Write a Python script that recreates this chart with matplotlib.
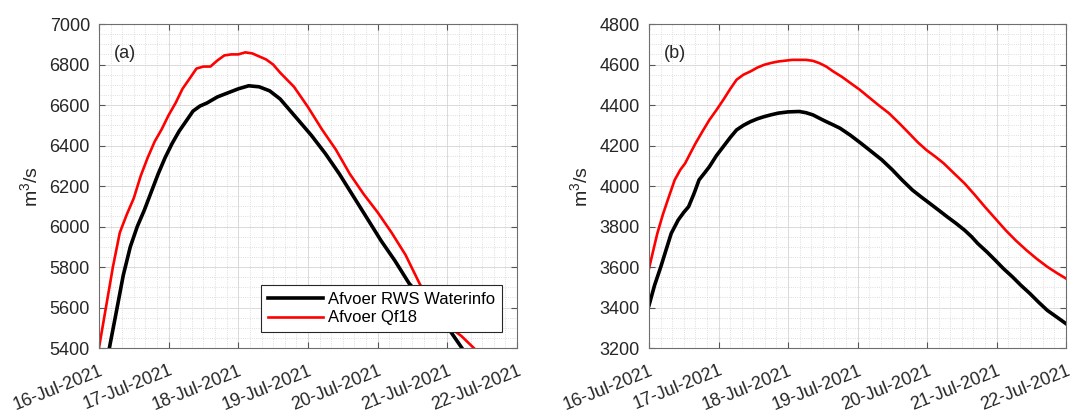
import numpy as np
import matplotlib
matplotlib.use('Agg')
import matplotlib.pyplot as plt
import matplotlib.dates as mdates

plt.rcParams['font.family'] = ['Liberation Sans', 'DejaVu Sans']
plt.rcParams['mathtext.fontset'] = 'custom'
plt.rcParams['mathtext.rm'] = 'Liberation Sans'
plt.rcParams['mathtext.it'] = 'Liberation Sans'

start = np.datetime64('2021-07-16T00:00')

# panel (a): time in days after 16-Jul-2021 00:00, discharge in m3/s
a_rws_t = [0.15, 0.25, 0.35, 0.45, 0.55, 0.65, 0.75, 0.85, 0.95, 1.05, 1.15, 1.25,
           1.35, 1.45, 1.55, 1.7, 1.85, 2.0, 2.15, 2.3, 2.45, 2.6, 2.75, 2.9, 3.05,
           3.25, 3.45, 3.65, 3.85, 4.05, 4.25, 4.45, 4.65, 4.85, 5.05, 5.21]
a_rws_q = [5400, 5580, 5760, 5900, 6000, 6080, 6170, 6260, 6340, 6410, 6470, 6520,
           6570, 6595, 6610, 6640, 6660, 6680, 6695, 6690, 6670, 6630, 6570, 6510, 6450,
           6360, 6260, 6150, 6040, 5930, 5830, 5720, 5640, 5560, 5480, 5400]
a_qf_t = [0, 0.1, 0.2, 0.3, 0.4, 0.5, 0.6, 0.7, 0.8, 0.9, 1.0, 1.1, 1.2, 1.3, 1.4,
          1.5, 1.6, 1.7, 1.8, 1.9, 2.0, 2.1, 2.2, 2.3, 2.4, 2.5, 2.6, 2.8, 3.0, 3.2,
          3.4, 3.6, 3.8, 4.0, 4.2, 4.4, 4.6, 4.8, 5.0, 5.2, 5.38]
a_qf_q = [5400, 5600, 5800, 5970, 6060, 6140, 6250, 6340, 6420, 6480, 6550, 6610,
          6680, 6730, 6780, 6790, 6790, 6820, 6845, 6850, 6850, 6860, 6855, 6840, 6825,
          6800, 6760, 6690, 6590, 6480, 6380, 6260, 6160, 6070, 5970, 5860, 5720, 5600,
          5510, 5460, 5400]

# panel (b)
b_rws_t = [0, 0.08, 0.17, 0.25, 0.32, 0.42, 0.5, 0.57, 0.65, 0.72, 0.8, 0.87, 0.97,
           1.07, 1.17, 1.26, 1.36, 1.46, 1.56, 1.66, 1.76, 1.86, 2.0, 2.16, 2.26, 2.36,
           2.45, 2.55, 2.65, 2.75, 2.9, 3.05, 3.2, 3.35, 3.5, 3.64, 3.79, 3.92, 4.04,
           4.17, 4.29, 4.42, 4.54, 4.64, 4.73, 4.86, 4.98, 5.1, 5.23, 5.35, 5.48, 5.6,
           5.73, 5.87, 6.0]
b_rws_q = [3411, 3510, 3601, 3690, 3766, 3832, 3870, 3898, 3965, 4030, 4065, 4096, 4150,
           4195, 4240, 4277, 4300, 4318, 4332, 4343, 4352, 4360, 4366, 4368, 4362, 4351,
           4335, 4318, 4302, 4285, 4250, 4211, 4170, 4129, 4080, 4030, 3980, 3945, 3914,
           3880, 3848, 3815, 3782, 3750, 3716, 3675, 3634, 3592, 3551, 3510, 3469, 3428,
           3386, 3352, 3320]
b_qf_t = [0, 0.06, 0.12, 0.2, 0.27, 0.37, 0.45, 0.52, 0.6, 0.67, 0.77, 0.87, 0.97,
          1.07, 1.17, 1.26, 1.36, 1.46, 1.56, 1.66, 1.76, 1.86, 2.06, 2.26, 2.36, 2.45,
          2.55, 2.65, 2.78, 2.9, 3.03, 3.15, 3.3, 3.45, 3.6, 3.74, 3.87, 3.99, 4.12,
          4.24, 4.39, 4.54, 4.69, 4.83, 4.98, 5.13, 5.28, 5.43, 5.58, 5.73, 5.87, 6.0]
b_qf_q = [3593, 3680, 3766, 3860, 3931, 4030, 4080, 4112, 4165, 4211, 4270, 4327, 4375,
          4426, 4480, 4525, 4550, 4566, 4585, 4599, 4608, 4615, 4623, 4623, 4618, 4607,
          4590, 4566, 4538, 4508, 4476, 4442, 4400, 4360, 4310, 4261, 4215, 4178, 4145,
          4112, 4062, 4013, 3955, 3898, 3840, 3782, 3730, 3683, 3640, 3601, 3570, 3543]

labels = ['Afvoer RWS Waterinfo', 'Afvoer Qf18']
panels = ['(a)', '(b)']
ylims = [(5400, 7000), (3200, 4800)]


def to_time(days):
    return start + (np.array(days) * 24 * 60).astype(int).astype('timedelta64[m]')


fig = plt.figure(figsize=(10.71, 4.12), dpi=100)
ax1 = fig.add_axes([0.0924, 0.1553, 0.3903, 0.7864])
ax2 = fig.add_axes([0.606, 0.1553, 0.3894, 0.7864])

data = [(a_rws_t, a_rws_q, a_qf_t, a_qf_q), (b_rws_t, b_rws_q, b_qf_t, b_qf_q)]

for ax, (rt, rq, qt, qq), name, yl in zip([ax1, ax2], data, panels, ylims):
    ax.plot(to_time(rt), rq, color='black', lw=2.6, label=labels[0])
    ax.plot(to_time(qt), qq, color='#ff0000', lw=1.9, label=labels[1])
    ax.set_xlim(start, start + np.timedelta64(6, 'D'))
    ax.set_ylim(*yl)
    ax.xaxis.set_major_locator(mdates.DayLocator())
    ax.xaxis.set_major_formatter(mdates.DateFormatter('%d-%b-%Y'))
    ax.xaxis.set_minor_locator(mdates.HourLocator(byhour=range(0, 24, 4)))
    ax.yaxis.set_major_locator(plt.MultipleLocator(200))
    ax.yaxis.set_minor_locator(plt.MultipleLocator(50))
    ax.grid(which='major', color='#d4d4d4', lw=0.6, ls='-')
    ax.grid(which='minor', color='#d4d4d4', lw=0.6, ls=':')
    ax.set_axisbelow(True)
    ax.tick_params(which='major', direction='in', top=True, right=True, length=4,
                   color='#555555', labelsize=13, labelcolor='#262626')
    ax.tick_params(which='minor', length=0)
    ax.tick_params(axis='x', pad=10)
    ax.tick_params(axis='y', pad=6.5)
    for lab in ax.get_xticklabels():
        lab.set_rotation(22)
        lab.set_ha('right')
        lab.set_va('top')
        lab.set_rotation_mode('anchor')
    for s in ax.spines.values():
        s.set_color('#6e6e6e')
        s.set_linewidth(0.8)
    ax.set_ylabel('m$^3$/s', fontsize=14, color='#262626', labelpad=6)
    ax.text(0.035, 0.91, name, transform=ax.transAxes, fontsize=13,
            va='center', color='#262626')

leg = ax1.legend(loc='lower right', bbox_to_anchor=(0.964, 0.049), fontsize=12,
                 handlelength=3.3, handletextpad=0.3, fancybox=False,
                 framealpha=1, borderpad=0.4, labelspacing=0.2, borderaxespad=0)
leg.get_frame().set_edgecolor('#262626')
leg.get_frame().set_linewidth(0.8)

plt.savefig('out.png', dpi=100)
